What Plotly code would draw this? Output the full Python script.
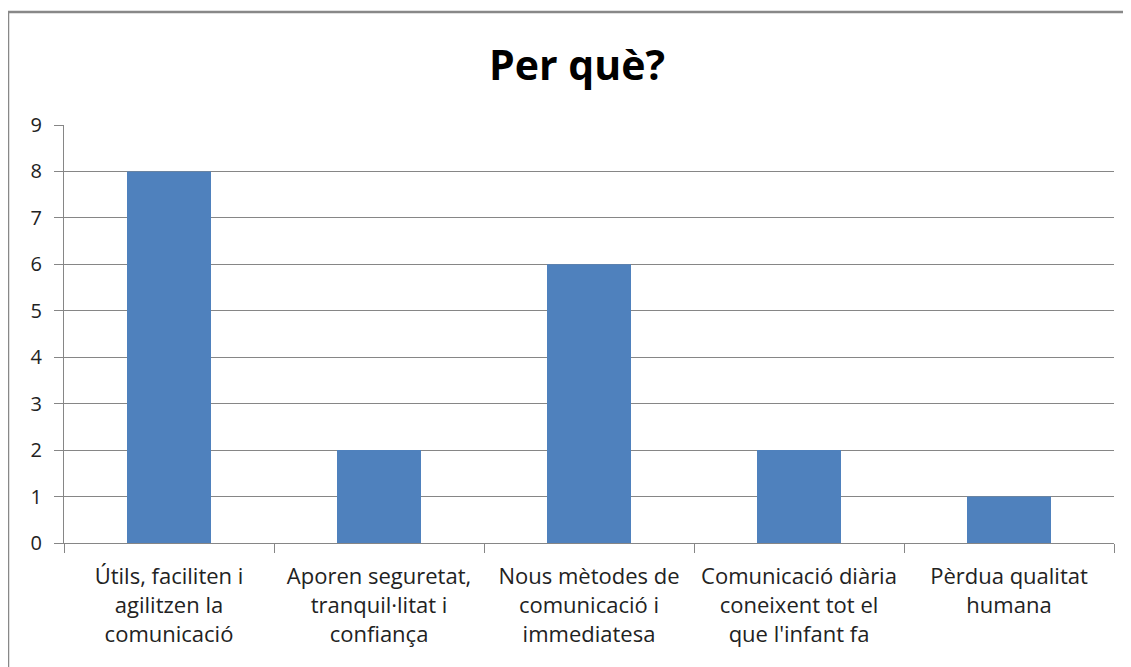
import plotly.graph_objects as go

# ===== DATA =====
CATEGORIES = [
    'Útils, faciliten i<br>agilitzen la<br>comunicació',
    'Aporen seguretat,<br>tranquil·litat i<br>confiança',
    'Nous mètodes de<br>comunicació i<br>immediatesa',
    'Comunicació diària<br>coneixent tot el<br>que l\'infant fa',
    'Pèrdua qualitat<br>humana',
]
VALUES = [8, 2, 6, 2, 1]
Y_TICKS = list(range(0, 10))

BAR_COLOR = '#4F81BD'
GRID_COLOR = '#868686'
FONT = 'Open Sans, Liberation Sans, sans-serif'

# page body has an 8px margin, so the figure is sized/offset to compensate
OFF = 8
W, H = 1131 - OFF, 667 - OFF
M = dict(l=64 - OFF, r=17, t=125 - OFF, b=124)
PW = W - M['l'] - M['r']
PH = H - M['t'] - M['b']


def px_x(p):
    return (p - OFF - M['l']) / PW


def px_y(p):
    return (H - M['b'] - (p - OFF)) / PH


fig = go.Figure(go.Bar(x=CATEGORIES, y=VALUES, marker_color=BAR_COLOR,
                       marker_line_width=0))

fig.update_layout(
    width=W, height=H, margin=M,
    paper_bgcolor='white', plot_bgcolor='white',
    bargap=0.6, showlegend=False,
    font=dict(family=FONT, color='#222222', size=22),
    title=dict(text='<b>Per què?</b>', x=(577 - OFF) / W, xanchor='center',
               y=1 - (66 - OFF) / H, yanchor='middle',
               font=dict(family=FONT, size=41, color='black')),
    shapes=[dict(type='rect', xref='paper', yref='paper', layer='above',
                 x0=px_x(8), x1=px_x(1145), y0=px_y(690), y1=px_y(12),
                 line=dict(color='#888888', width=2.5))],
)

fig.update_xaxes(
    showline=True, linecolor=GRID_COLOR, linewidth=1,
    ticks='outside', tickson='boundaries', ticklen=9, tickcolor=GRID_COLOR,
    showgrid=False, tickfont=dict(size=22, color='#222222'), ticklabelstandoff=14,
)
fig.update_yaxes(
    range=[0, 9], tickvals=Y_TICKS, showline=True, linecolor=GRID_COLOR,
    showgrid=True, gridcolor=GRID_COLOR, gridwidth=1, zeroline=False,
    ticks='outside', ticklen=9, tickcolor=GRID_COLOR,
    tickfont=dict(size=20, color='#222222'), ticklabelstandoff=8,
)

fig.write_html('out.html')
